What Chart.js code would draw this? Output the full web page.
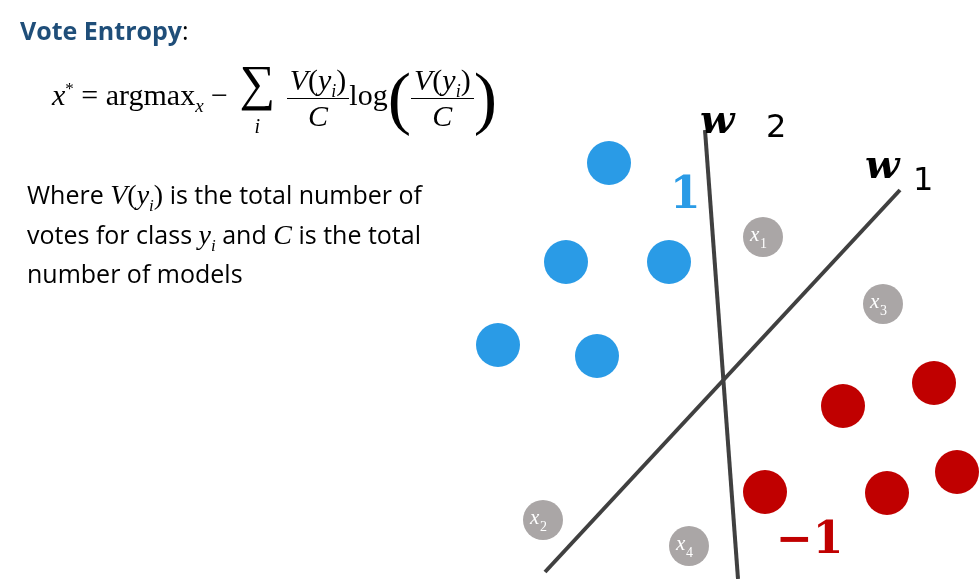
<!DOCTYPE html>
<html><head><meta charset="utf-8">
<script src="https://cdn.jsdelivr.net/npm/chart.js@4"></script>
<style>
body{margin:0;background:#fff;width:979px;height:579px;overflow:hidden;position:relative;font-family:"Open Sans",sans-serif}
#wrap{position:absolute;left:0;top:0;width:979px;height:579px}
.t{position:absolute;white-space:nowrap}
.frac{display:inline-block;vertical-align:middle;text-align:center;line-height:1.15}
.frac span{display:block;padding:0 3px}
.frac .n{border-bottom:1.5px solid #000}
sub{line-height:0}
</style></head><body>
<div id="wrap"><canvas id="c" width="979" height="579"></canvas></div>
<div class="t" style="left:20px;top:13px;font-size:25px;font-weight:bold;color:#1f4e79">Vote Entropy<span style="font-weight:normal;color:#000">:</span></div>
<div class="t" style="left:52px;top:58px;font-size:30px;font-family:'Liberation Serif',serif">
<i>x</i><sup style="font-size:17px">*</sup> = argmax<sub style="font-size:19px"><i>x</i></sub> −
<span style="display:inline-block;vertical-align:middle;text-align:center;line-height:1;margin:0 4px"><span style="font-size:50px">∑</span><br><i style="font-size:20px">i</i></span>
<span class="frac"><span class="n"><i>V</i>(<i>y<sub style="font-size:18px">i</sub></i>)</span><span><i>C</i></span></span>log<span style="font-size:70px;vertical-align:middle;font-weight:100">(</span><span class="frac"><span class="n"><i>V</i>(<i>y<sub style="font-size:18px">i</sub></i>)</span><span><i>C</i></span></span><span style="font-size:70px;vertical-align:middle;font-weight:100">)</span>
</div>
<div class="t" style="left:27px;top:175px;font-size:25px;line-height:39.5px">
Where <span style="font-family:'Liberation Serif',serif;font-size:28px"><i> V</i>(<i>y<sub style="font-size:17px">i</sub></i>)</span> is the total number of<br>
votes for class <i style="font-family:'Liberation Serif',serif;font-size:28px">y<sub style="font-size:17px">i</sub></i> and <i style="font-family:'Liberation Serif',serif;font-size:28px">C</i> is the total<br>
number of models</div>
<script>
// coordinates on a 979 x 579 plane, y measured from the top
const blueX = [609, 566, 669, 498, 597];
const blueY = [163, 262, 262, 345, 356];
const redX = [843, 934, 765, 887, 957];
const redY = [406, 383, 492, 493, 472];
const grayX = [763, 883, 543, 689];
const grayY = [237, 304, 520, 546];
const grayLabels = ['1', '3', '2', '4'];
const w2X = [705, 738];
const w2Y = [130, 579];
const w1X = [545, 900];
const w1Y = [572, 190];

const pts = (xs, ys) => xs.map((x, i) => ({x, y: ys[i]}));

const labelsPlugin = {
  id: 'labels',
  afterDatasetsDraw(chart) {
    const ctx = chart.ctx, xs = chart.scales.x, ys = chart.scales.y;
    ctx.save();
    ctx.textBaseline = 'alphabetic';
    grayX.forEach((x, i) => {
      const px = xs.getPixelForValue(x), py = ys.getPixelForValue(grayY[i]);
      ctx.fillStyle = '#fff';
      ctx.font = 'italic 21px "Liberation Serif"';
      ctx.fillText('x', px - 13, py + 4);
      ctx.font = '14px "Liberation Serif"';
      ctx.fillText(grayLabels[i], px - 3, py + 11);
    });
    ctx.font = 'bold 44px "DejaVu Serif"';
    ctx.fillStyle = '#2a9be6';
    ctx.fillText('1', xs.getPixelForValue(670), ys.getPixelForValue(208));
    ctx.fillStyle = '#c00000';
    ctx.fillText('−1', xs.getPixelForValue(776), ys.getPixelForValue(553));
    ctx.fillStyle = '#000';
    ctx.font = 'bold italic 40px "DejaVu Serif"';
    ctx.fillText('w', xs.getPixelForValue(700), ys.getPixelForValue(133));
    ctx.fillText('w', xs.getPixelForValue(865), ys.getPixelForValue(178));
    ctx.font = '32px "DejaVu Sans"';
    ctx.fillText('2', xs.getPixelForValue(766), ys.getPixelForValue(137));
    ctx.fillText('1', xs.getPixelForValue(913), ys.getPixelForValue(190));
    ctx.restore();
  }
};

new Chart(document.getElementById('c'), {
  type: 'scatter',
  data: {
    datasets: [
      {data: pts(w2X, w2Y), showLine: true, borderColor: '#404040', borderWidth: 4, pointRadius: 0, clip: false},
      {data: pts(w1X, w1Y), showLine: true, borderColor: '#404040', borderWidth: 4, pointRadius: 0, clip: false},
      {data: pts(blueX, blueY), pointRadius: 22, backgroundColor: '#2a9be6', borderWidth: 0, clip: false},
      {data: pts(redX, redY), pointRadius: 22, backgroundColor: '#c00000', borderWidth: 0, clip: false},
      {data: pts(grayX, grayY), pointRadius: 20, backgroundColor: '#aaa6a6', borderWidth: 0, clip: false}
    ]
  },
  options: {
    responsive: false, animation: false,
    layout: {padding: 0, autoPadding: false},
    plugins: {legend: {display: false}, tooltip: {enabled: false}},
    scales: {
      x: {type: 'linear', min: 0, max: 979, display: false},
      y: {type: 'linear', min: 0, max: 579, reverse: true, display: false}
    }
  },
  plugins: [labelsPlugin]
});
</script>
</body></html>
